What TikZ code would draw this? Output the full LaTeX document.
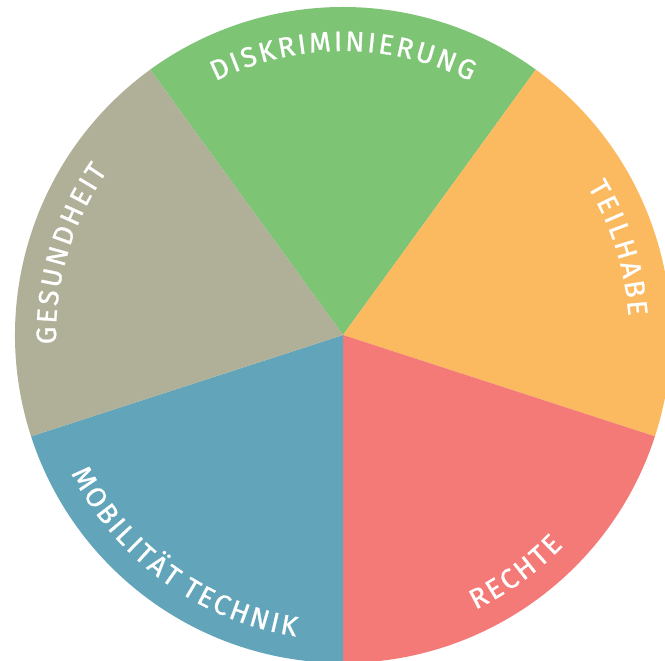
\documentclass[tikz,border=0pt]{standalone}
\usepackage{fontspec}
\setmainfont{Fira Sans}
\newfontfamily\lblfont[FakeBold=0.9]{Fira Sans}
\usetikzlibrary{decorations.text}
\definecolor{cgreen}{HTML}{7DC475}
\definecolor{corange}{HTML}{FBB960}
\definecolor{cred}{HTML}{F37A76}
\definecolor{cblue}{HTML}{62A5BA}
\definecolor{cgrey}{HTML}{B0AF98}
\newcommand\ks{\kern2.6pt}
\tikzset{
  sector/.style={draw=none},
  toplabel/.style={decorate, decoration={text along path, text align=center, text color=white,
    text={|\lblfont\fontsize{28}{28}\selectfont|#1}}},
}
\begin{document}
\begin{tikzpicture}[x=1pt,y=1pt]
\useasboundingbox (0,0) rectangle (665,661);
\clip (0,0) rectangle (665,661);
\coordinate (c) at (343,326);
\def\R{328}
\fill[cgreen,sector] (c) -- ++(54:\R) arc[start angle=54,end angle=126,radius=\R] -- cycle;
\fill[corange,sector] (c) -- ++(-18:\R) arc[start angle=-18,end angle=54,radius=\R] -- cycle;
\fill[cred,sector] (c) -- ++(-90:\R) arc[start angle=-90,end angle=-18,radius=\R] -- cycle;
\fill[cblue,sector] (c) -- ++(198:\R) arc[start angle=198,end angle=270,radius=\R] -- cycle;
\fill[cgrey,sector] (c) -- ++(126:\R) arc[start angle=126,end angle=198,radius=\R] -- cycle;
% labels
\path[toplabel={{D\ks}{I\ks}{S\ks}{K\ks}{R\ks}{I\ks}{M\ks}{I\ks}{N\ks}{I\ks}{E\ks}{R\ks}{U\ks}{N\ks}G}] (c) ++(140:284) arc[start angle=140,end angle=40,radius=284];
\path[toplabel={{T\ks}{E\ks}{I\ks}{L\ks}{H\ks}{A\ks}{B\ks}E}] (c) ++(67.5:286) arc[start angle=67.5,end angle=-32.5,radius=286];
\path[toplabel={{G\ks}{E\ks}{S\ks}{U\ks}{N\ks}{D\ks}{H\ks}{E\ks}{I\ks}T}] (c) ++(213.5:287) arc[start angle=213.5,end angle=113.5,radius=287];
\path[toplabel={{M\ks}{O\ks}{B\ks}{I\ks}{L\ks}{I\ks}{T\ks}{Ä\ks}{T\ks} {T\ks}{E\ks}{C\ks}{H\ks}{N\ks}{I\ks}K}] (c) ++(184:305) arc[start angle=184,end angle=284,radius=305];
\path[toplabel={{R\ks}{E\ks}{C\ks}{H\ks}{T\ks}E}] (c) ++(256:305) arc[start angle=256,end angle=356,radius=305];
\end{tikzpicture}
\end{document}
